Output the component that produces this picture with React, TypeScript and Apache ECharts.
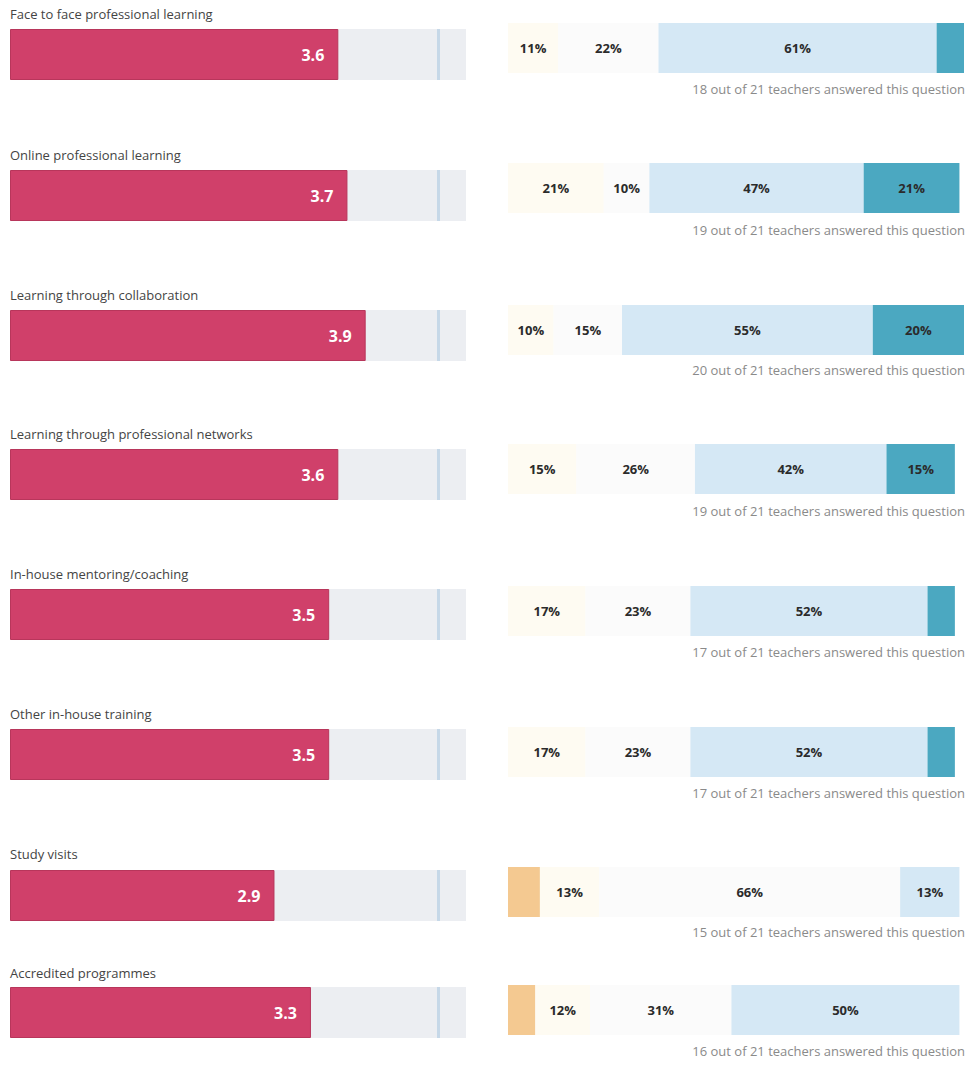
import React, { useEffect, useRef } from "react";
import * as echarts from "echarts";

const categories = [
  "Face to face professional learning",
  "Online professional learning",
  "Learning through collaboration",
  "Learning through professional networks",
  "In-house mentoring/coaching",
  "Other in-house training",
  "Study visits",
  "Accredited programmes",
];
const scores = [3.6, 3.7, 3.9, 3.6, 3.5, 3.5, 2.9, 3.3];
const benchmark = [4.7, 4.7, 4.7, 4.7, 4.7, 4.7, 4.7, 4.7];
const stronglyDisagree = [0, 0, 0, 0, 0, 0, 7, 6];
const disagree = [11, 21, 10, 15, 17, 17, 13, 12];
const neutral = [22, 10, 15, 26, 23, 23, 66, 31];
const agree = [61, 47, 55, 42, 52, 52, 13, 50];
const stronglyAgree = [6, 21, 20, 15, 6, 6, 0, 0];
const answered = [18, 19, 20, 19, 17, 17, 15, 16];
const totalTeachers = 21;

const segmentNames = ["Strongly disagree", "Disagree", "Neutral", "Agree", "Strongly agree"];
const segmentData = [stronglyDisagree, disagree, neutral, agree, stronglyAgree];
const segmentColors = ["#f4c991", "#fefbf2", "#fbfbfb", "#d5e8f5", "#4ba8c1"];

// layout (pixels)
const leftTop = [29, 170, 310, 449, 589, 729, 870, 987];
const rightTop = [23, 163, 305, 444, 586, 727, 867, 985];
const titleY = [16, 157, 297, 436, 576, 716, 856, 975];
const footY = [91, 232, 372, 513, 654, 795, 934, 1053];

const FONT = "'Open Sans', 'DejaVu Sans', sans-serif";

export default function App() {
  const ref = useRef<HTMLDivElement>(null);
  useEffect(() => {
    if (!ref.current) return;
    const chart = echarts.init(ref.current, undefined, { renderer: "svg" });
    const grid: any[] = [];
    const xAxis: any[] = [];
    const yAxis: any[] = [];
    const series: any[] = [];
    const graphic: any[] = [];

    categories.forEach((cat, i) => {
      // left score grid
      grid.push({ left: 10, top: leftTop[i], width: 456, height: 51 });
      xAxis.push({ type: "value", min: 0, max: 5, gridIndex: 2 * i, show: false });
      yAxis.push({ type: "category", data: [cat], gridIndex: 2 * i, show: false });
      series.push({
        type: "bar",
        name: "Score",
        xAxisIndex: 2 * i,
        yAxisIndex: 2 * i,
        data: [scores[i]],
        barWidth: "100%",
        showBackground: true,
        backgroundStyle: { color: "#eceef2" },
        itemStyle: { color: "#d0406a", borderColor: "#b8365b", borderWidth: 1 },
        label: {
          show: true,
          position: "insideRight",
          distance: 14,
          color: "#ffffff",
          fontWeight: "bold",
          fontSize: 16,
          fontFamily: FONT,
          formatter: (p: any) => p.value.toFixed(1),
        },
        markLine: {
          silent: true,
          symbol: "none",
          label: { show: false },
          lineStyle: { color: "#c6d8e8", width: 3, type: "solid" },
          data: [{ xAxis: benchmark[i] }],
        },
      });

      // right stacked grid
      grid.push({ left: 508, top: rightTop[i], width: 456, height: 50 });
      xAxis.push({ type: "value", min: 0, max: 100, gridIndex: 2 * i + 1, show: false });
      yAxis.push({ type: "category", data: [cat], gridIndex: 2 * i + 1, show: false });
      segmentData.forEach((arr, k) => {
        series.push({
          type: "bar",
          name: segmentNames[k],
          stack: "s" + i,
          xAxisIndex: 2 * i + 1,
          yAxisIndex: 2 * i + 1,
          data: [arr[i]],
          barWidth: "100%",
          itemStyle: { color: segmentColors[k] },
          label: {
            show: arr[i] >= 10,
            position: "inside",
            color: "#2b2b2b",
            fontWeight: "bold",
            fontSize: 13,
            fontFamily: FONT,
            formatter: (p: any) => p.value + "%",
          },
        });
      });

      graphic.push({
        type: "text",
        left: 10,
        top: titleY[i] - 9,
        style: { text: cat, fill: "#444444", font: `13px ${FONT}` },
      });
      graphic.push({
        type: "text",
        right: 972 - 965,
        top: footY[i] - 9,
        style: {
          text: `${answered[i]} out of ${totalTeachers} teachers answered this question`,
          fill: "#8a8a8a",
          font: `13px ${FONT}`,
        },
      });
    });

    chart.setOption({
      animation: false,
      backgroundColor: "#ffffff",
      grid,
      xAxis,
      yAxis,
      series,
      graphic,
    });
    return () => chart.dispose();
  }, []);

  return (
    <div
      ref={ref}
      style={{ position: "absolute", left: 0, top: 0, width: 972, height: 1065 }}
    />
  );
}
